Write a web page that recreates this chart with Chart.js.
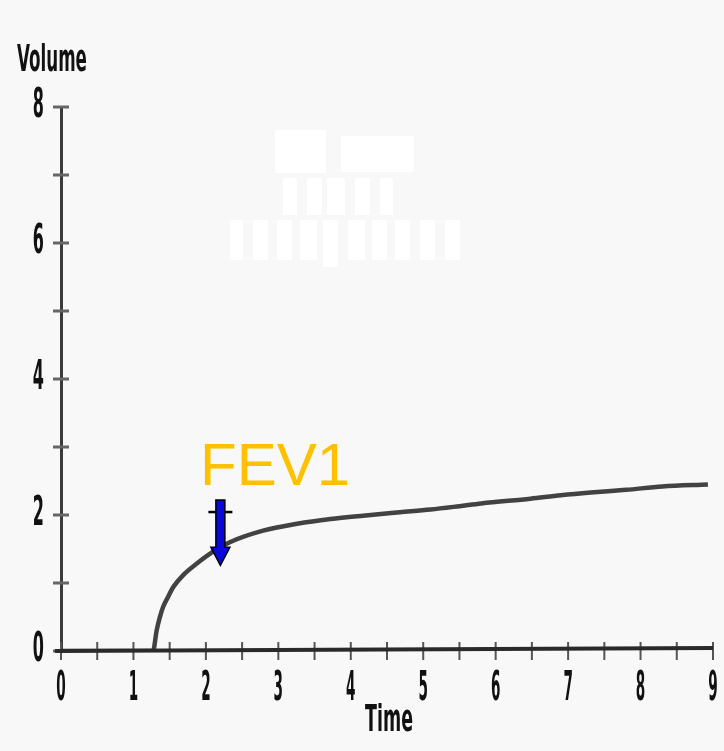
<!DOCTYPE html>
<html>
<head>
<meta charset="utf-8">
<script src="https://cdn.jsdelivr.net/npm/chart.js@4.4.1/dist/chart.umd.min.js"></script>
<style>
    html, body { margin: 0; padding: 0; background: #f8f8f8; }
    #wrap { width: 724px; height: 751px; }
</style>
</head>
<body>
<div id="wrap"><canvas id="spiro"></canvas></div>
<script>
// spirometry trace
const timeValues   = [0, 1.0, 1.27, 1.32, 1.36, 1.41, 1.48, 1.55, 1.69, 1.88, 2.1, 2.33, 2.79, 3.26, 3.72, 4.17, 4.68, 5.1, 5.5, 5.8, 6.48, 6.9, 7.31, 7.8, 8.3, 8.93];
const volumeValues = [0, 0,   0,    0.3,  0.48, 0.65, 0.8,  0.94, 1.12, 1.29, 1.46, 1.6, 1.77, 1.87, 1.94, 1.99, 2.04, 2.08, 2.13, 2.17, 2.24, 2.29, 2.33, 2.37, 2.42, 2.45];
const xTickLabels = ['0', '1', '2', '3', '4', '5', '6', '7', '8', '9'];
const yTickLabels = ['0', '', '2', '', '4', '', '6', '', '8'];

// FEV1 marker (in data units)
const fevTime = 2.2;
const fevLabel = { time: 1.92, volume: 2.44, text: 'FEV1' };
const fevArrow = { top: 2.22, tip: 1.26 };

const boldFace = "'DejaVu Sans', sans-serif";

// narrow bold text, like the old plotter font
function narrowText(ctx, text, x, y, size, squeeze, align) {
    ctx.save();
    ctx.font = 'bold ' + size + 'px ' + boldFace;
    ctx.textBaseline = 'middle';
    ctx.textAlign = align;
    ctx.translate(x, y);
    ctx.scale(squeeze, 1);
    ctx.fillText(text, 0, 0);
    ctx.restore();
}

const decorPlugin = {
    id: 'decor',
    beforeDraw(chart) {
        const ctx = chart.ctx;
        ctx.save();
        ctx.fillStyle = '#f8f8f8';
        ctx.fillRect(0, 0, chart.width, chart.height);
        // blanked-out text blocks
        ctx.fillStyle = '#ffffff';
        const blocks = [
            [275, 130, 51, 43], [341, 136, 73, 36],
            [283, 178, 14, 37], [307, 178, 15, 37], [327, 178, 18, 37], [355, 178, 15, 37], [380, 178, 13, 37],
            [230, 220, 13, 40], [253, 220, 15, 40], [277, 220, 15, 40], [300, 220, 17, 40], [323, 220, 15, 47],
            [348, 220, 17, 40], [372, 220, 15, 40], [395, 220, 15, 40], [420, 220, 15, 40], [445, 220, 15, 40]
        ];
        blocks.forEach(b => ctx.fillRect(b[0], b[1], b[2], b[3]));
        ctx.restore();
    },
    afterDatasetsDraw(chart) {
        const ctx = chart.ctx;
        const xs = chart.scales.x;
        const ys = chart.scales.y;
        const area = chart.chartArea;
        ctx.save();

        // x axis: tick marks crossing the axis every 0.5
        ctx.strokeStyle = '#555';
        ctx.lineWidth = 2;
        for (let t = 0; t <= 9; t += 0.5) {
            const px = xs.getPixelForValue(t);
            ctx.beginPath();
            ctx.moveTo(px, area.bottom - 9);
            ctx.lineTo(px, area.bottom + 9);
            ctx.stroke();
        }
        // y axis: tick marks crossing the axis every 1
        ctx.strokeStyle = '#666';
        ctx.lineWidth = 3;
        for (let v = 0; v <= 8; v++) {
            const py = ys.getPixelForValue(v);
            ctx.beginPath();
            ctx.moveTo(area.left - 8, py);
            ctx.lineTo(area.left + 8, py);
            ctx.stroke();
        }
        // heavy x axis line
        ctx.strokeStyle = '#2a2a2a';
        ctx.lineWidth = 4;
        ctx.beginPath();
        ctx.moveTo(area.left - 6, area.bottom);
        ctx.lineTo(area.right, area.bottom - 3);
        ctx.stroke();

        // tick labels
        ctx.fillStyle = '#111';
        xs.ticks.forEach(t => {
            const lbl = xTickLabels[t.value];
            if (lbl) narrowText(ctx, lbl, xs.getPixelForValue(t.value), area.bottom + 39, 40, 0.34, 'center');
        });
        ys.ticks.forEach(t => {
            const lbl = yTickLabels[t.value];
            if (lbl) narrowText(ctx, lbl, area.left - 17, ys.getPixelForValue(t.value), 40, 0.4, 'right');
        });

        // axis titles
        narrowText(ctx, 'Volume', 17, 61, 38, 0.44, 'left');
        narrowText(ctx, 'Time', (area.left + area.right) / 2 + 2, 721, 38, 0.46, 'center');

        // FEV1 label
        ctx.fillStyle = '#ffc000';
        ctx.font = "60px 'Liberation Sans', Arial, sans-serif";
        ctx.textAlign = 'left';
        ctx.textBaseline = 'alphabetic';
        ctx.fillText(fevLabel.text, xs.getPixelForValue(fevLabel.time), ys.getPixelForValue(fevLabel.volume));

        // FEV1 arrow
        const ax = xs.getPixelForValue(fevTime);
        const top = ys.getPixelForValue(fevArrow.top);
        const tip = ys.getPixelForValue(fevArrow.tip);
        const headH = 18;
        ctx.strokeStyle = '#000';
        ctx.lineWidth = 2.5;
        ctx.beginPath();
        ctx.moveTo(ax - 12, top + 12);
        ctx.lineTo(ax + 12, top + 12);
        ctx.stroke();
        ctx.fillStyle = '#0a0ad8';
        ctx.lineWidth = 1.5;
        ctx.beginPath();
        ctx.moveTo(ax - 4.5, top);
        ctx.lineTo(ax + 4.5, top);
        ctx.lineTo(ax + 4.5, tip - headH);
        ctx.lineTo(ax + 9.5, tip - headH);
        ctx.lineTo(ax, tip);
        ctx.lineTo(ax - 9.5, tip - headH);
        ctx.lineTo(ax - 4.5, tip - headH);
        ctx.closePath();
        ctx.fill();
        ctx.stroke();
        ctx.restore();
    }
};

new Chart(document.getElementById('spiro'), {
    type: 'line',
    data: {
        datasets: [{
            label: 'Volume',
            data: timeValues.map((t, i) => ({ x: t, y: volumeValues[i] })),
            borderColor: 'rgba(45, 45, 45, 0.9)',
            borderWidth: 4.5,
            pointRadius: 0,
            cubicInterpolationMode: 'monotone',
            fill: false
        }]
    },
    options: {
        responsive: true,
        maintainAspectRatio: false,
        animation: false,
        layout: { padding: { top: 107, right: 11, left: 0, bottom: 0 } },
        plugins: {
            legend: { display: false },
            tooltip: { enabled: false }
        },
        scales: {
            x: {
                type: 'linear',
                min: 0,
                max: 9,
                afterFit: s => { s.height = 100; },
                border: { display: false },
                grid: { display: false },
                ticks: { display: false, stepSize: 1 }
            },
            y: {
                min: 0,
                max: 8,
                afterFit: s => { s.width = 61; },
                border: { display: true, color: '#3a3a3a', width: 3 },
                grid: { display: false },
                ticks: { display: false, stepSize: 1 }
            }
        }
    },
    plugins: [decorPlugin]
});
</script>
</body>
</html>
